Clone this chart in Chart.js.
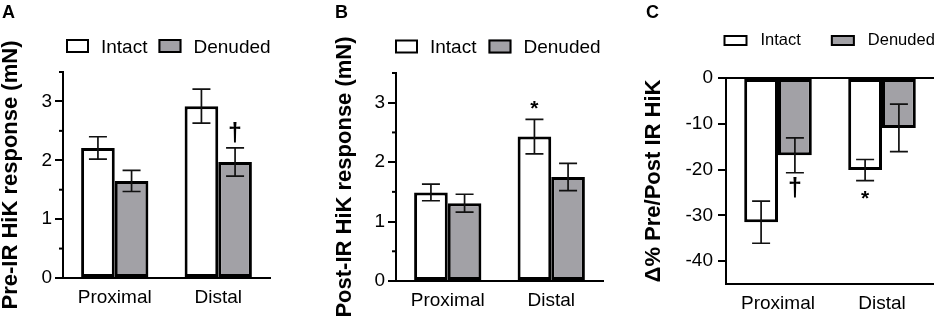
<!DOCTYPE html>
<html><head><meta charset="utf-8">
<script src="https://cdn.jsdelivr.net/npm/chart.js@4/dist/chart.umd.min.js"></script>
<style>
html,body{margin:0;padding:0;background:#fff;}
body{width:934px;height:316px;position:relative;overflow:hidden;font-family:'Liberation Sans',Arial,sans-serif;}
canvas{position:absolute;top:0;}
.letter{position:absolute;font-weight:bold;font-size:18px;line-height:1;color:#000;}
</style></head><body>
<canvas id="cA" style="left:0px" width="300" height="316"></canvas>
<canvas id="cB" style="left:310px" width="300" height="316"></canvas>
<canvas id="cC" style="left:620px" width="314" height="316"></canvas>
<div class="letter" style="left:2px;top:3px">A</div>
<div class="letter" style="left:335px;top:3px">B</div>
<div class="letter" style="left:646px;top:3px">C</div>
<script>
// ---- data ----
const categories = ['Proximal', 'Distal'];
const seriesNames = ['Intact', 'Denuded'];

const preIntact = [2.21, 2.92];
const preIntactErr = [0.19, 0.29];
const preDenuded = [1.65, 1.97];
const preDenudedErr = [0.18, 0.24];
const preIntactMarks = ['', ''];
const preDenudedMarks = ['', '†'];

const postIntact = [1.49, 2.43];
const postIntactErr = [0.14, 0.29];
const postDenuded = [1.31, 1.75];
const postDenudedErr = [0.15, 0.23];
const postIntactMarks = ['', '*'];
const postDenudedMarks = ['', ''];

const deltaIntact = [-31.5, -20.1];
const deltaIntactErr = [4.6, 2.3];
const deltaDenuded = [-16.9, -10.9];
const deltaDenudedErr = [3.8, 5.2];
const deltaIntactMarks = ['', '*'];
const deltaDenudedMarks = ['†', ''];

const yTicksPre = [0, 1, 2, 3];
const yTicksDelta = [0, -10, -20, -30, -40];

// ---- styling ----
const FONT = "'Liberation Sans', Arial, sans-serif";
const WHITE = '#ffffff';
const GRAY = '#a2a1a6';

const extras = {
  id: 'extras',
  afterDatasetsDraw(chart, args, o) {
    const ctx = chart.ctx, ys = chart.scales.y, ca = chart.chartArea;
    ctx.save();
    // minor ticks
    if (o.minorStep) {
      ctx.strokeStyle = '#000'; ctx.lineWidth = 2;
      for (let v = ys.min; v <= ys.max + 1e-9; v += o.minorStep) {
        if (Math.abs(v - Math.round(v)) < 1e-9) continue;
        const py = ys.getPixelForValue(v);
        ctx.beginPath(); ctx.moveTo(ca.left - o.minorLen, py); ctx.lineTo(ca.left, py); ctx.stroke();
      }
    }
    chart.data.datasets.forEach((ds, di) => {
      const meta = chart.getDatasetMeta(di);
      meta.data.forEach((bar, i) => {
        const v = ds.data[i], e = ds.errors[i];
        const yHi = ys.getPixelForValue(v + e), yLo = ys.getPixelForValue(v - e);
        ctx.strokeStyle = '#111'; ctx.lineWidth = o.errWidth;
        ctx.beginPath();
        ctx.moveTo(bar.x, yHi); ctx.lineTo(bar.x, yLo);
        ctx.moveTo(bar.x - o.cap, yHi); ctx.lineTo(bar.x + o.cap, yHi);
        ctx.moveTo(bar.x - o.cap, yLo); ctx.lineTo(bar.x + o.cap, yLo);
        ctx.stroke();
        const mark = ds.marks[i];
        if (mark) {
          const f = o.markFont[mark];
          ctx.font = f.weight + ' ' + f.size + 'px ' + FONT;
          const m = ctx.measureText(mark);
          const cy = v >= 0 ? yHi - f.gap : yLo + f.gap;
          ctx.fillStyle = '#000'; ctx.textAlign = 'center'; ctx.textBaseline = 'alphabetic';
          ctx.fillText(mark, bar.x, cy + (m.actualBoundingBoxAscent - m.actualBoundingBoxDescent) / 2);
        }
      });
    });
    // legend
    const L = o.legend;
    let x = L.x;
    ctx.font = L.font + 'px ' + FONT;
    ctx.textAlign = 'left'; ctx.textBaseline = 'alphabetic';
    chart.data.datasets.forEach((ds) => {
      ctx.fillStyle = ds.backgroundColor;
      ctx.fillRect(x, L.boxTop, L.boxW, L.boxH);
      ctx.strokeStyle = '#000'; ctx.lineWidth = 2;
      ctx.strokeRect(x + 1, L.boxTop + 1, L.boxW - 2, L.boxH - 2);
      x += L.boxW + L.textGap;
      ctx.fillStyle = '#000';
      ctx.fillText(ds.label, x, L.baseline);
      x += ctx.measureText(ds.label).width + L.itemGap;
    });
    ctx.restore();
  }
};

function makeChart(id, cfg) {
  const datasets = cfg.series.map((s, k) => ({
    label: seriesNames[k],
    data: s.values,
    errors: s.errors,
    marks: s.marks,
    backgroundColor: k === 0 ? WHITE : GRAY,
    borderColor: '#000',
    borderWidth: 3,
    borderSkipped: false,
    categoryPercentage: 0.65,
    barPercentage: 1.0
  }));
  return new Chart(document.getElementById(id), {
    type: 'bar',
    data: { labels: categories, datasets },
    plugins: [extras],
    options: {
      responsive: false,
      animation: false,
      layout: { padding: cfg.padding },
      plugins: {
        legend: { display: false },
        tooltip: { enabled: false },
        extras: {
          minorStep: cfg.minorStep, minorLen: 4, errWidth: 1.7, cap: 9,
          markFont: { '†': { size: 25, weight: 'bold', gap: 15 }, '*': { size: 21, weight: 'bold', gap: 14 } },
          legend: cfg.legend
        }
      },
      scales: {
        x: {
          afterFit(s) { s.height = cfg.xHeight; },
          grid: { display: true, drawOnChartArea: false, drawTicks: false },
          border: { color: '#000', width: 2 },
          ticks: { padding: cfg.xPad, color: '#000', maxRotation: 0, font: { size: 19, family: FONT } }
        },
        y: {
          min: cfg.min, max: cfg.max,
          afterFit(s) { s.width = cfg.yWidth; },
          afterBuildTicks(s) { s.ticks = cfg.yTicks.map(v => ({ value: v })); },
          ticks: { padding: cfg.yPad, color: '#000', font: { size: 19, family: FONT } },
          grid: {
            drawOnChartArea: cfg.zeroLine,
            color: c => (cfg.zeroLine && c.tick && c.tick.value === 0) ? '#000' : 'rgba(0,0,0,0)',
            lineWidth: 2,
            drawTicks: true, tickLength: 8, tickColor: '#000', tickWidth: 2
          },
          border: { color: '#000', width: 2 },
          title: {
            display: true, text: cfg.title, color: '#000',
            font: { size: 22, weight: 'bold', family: FONT, lineHeight: 1 },
            padding: { top: 0, bottom: 0 }
          }
        }
      }
    }
  });
}

makeChart('cA', {
  series: [
    { values: preIntact, errors: preIntactErr, marks: preIntactMarks },
    { values: preDenuded, errors: preDenudedErr, marks: preDenudedMarks }
  ],
  min: 0, max: 3.5, yTicks: yTicksPre, minorStep: 0.5,
  title: 'Pre-IR HiK response (mN)',
  padding: { top: 72, right: 30, left: 0, bottom: 0 },
  yWidth: 63, xHeight: 38, yPad: 3, xPad: 8, zeroLine: false,
  legend: { x: 66, boxTop: 39, boxW: 23, boxH: 14, textGap: 12, itemGap: 11, font: 19, baseline: 52.5 }
});

makeChart('cB', {
  series: [
    { values: postIntact, errors: postIntactErr, marks: postIntactMarks },
    { values: postDenuded, errors: postDenudedErr, marks: postDenudedMarks }
  ],
  min: 0, max: 3.5, yTicks: yTicksPre, minorStep: 0.5,
  title: 'Post-IR HiK response (mN)',
  padding: { top: 73, right: 7, left: 24, bottom: 0 },
  yWidth: 62, xHeight: 35, yPad: 3, xPad: 8, zeroLine: false,
  legend: { x: 85, boxTop: 39.5, boxW: 23, boxH: 14, textGap: 12, itemGap: 12, font: 19, baseline: 53.3 }
});

makeChart('cC', {
  series: [
    { values: deltaIntact, errors: deltaIntactErr, marks: deltaIntactMarks },
    { values: deltaDenuded, errors: deltaDenudedErr, marks: deltaDenudedMarks }
  ],
  min: -45, max: 0, yTicks: yTicksDelta, minorStep: 0,
  title: 'Δ% Pre/Post IR HiK',
  padding: { top: 78, right: 0, left: 23, bottom: 0 },
  yWidth: 83, xHeight: 32, yPad: 5, xPad: 8, zeroLine: true,
  legend: { x: 103.5, boxTop: 35, boxW: 24, boxH: 11, textGap: 13, itemGap: 30, font: 16.5, baseline: 45 }
});
</script>
</body></html>
